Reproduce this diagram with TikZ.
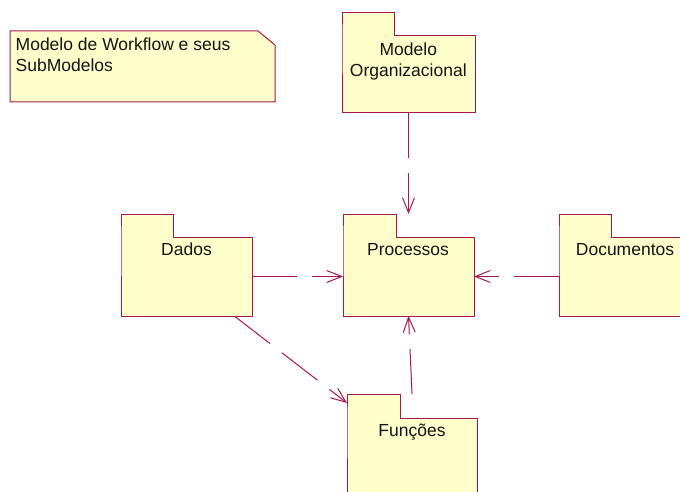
\documentclass[tikz,border=0pt]{standalone}
\usepackage{fontspec}
\setmainfont{Liberation Sans}
\usetikzlibrary{arrows.meta,calc,fit}

\definecolor{umlline}{RGB}{168,24,76}
\definecolor{umlfill}{RGB}{255,255,204}
\definecolor{umltext}{RGB}{20,20,20}

\tikzset{
  frame/.style={draw=umlline, fill=umlfill, line width=1pt, line join=miter},
  pkgbound/.style={rectangle, draw=none, inner sep=0pt, outer sep=0pt},
  caption/.style={inner sep=0pt, text=umltext, font=\fontsize{17.5}{21}\selectfont, align=center, anchor=base},
  notetext/.style={caption, align=left, anchor=base west},
  depends/.style={draw=umlline, line width=1pt, dash pattern=on 45pt off 15pt,
    -{Straight Barb[length=15pt,width=12pt]}},
}

% folder-shaped package: name, left, tab top, tab right, body top, right, bottom
\newcommand\umlpackage[7]{%
  \path[frame] (#2,#5) -- (#2,#3) -- (#4,#3) -- (#4,#5) -- (#6,#5) -- (#6,#7) -- (#2,#7) -- cycle;
  \node[pkgbound, fit={(#2,#3) (#6,#7)}] (#1) {};
  \coordinate (#1-body) at ({(#2+#6)/2},{(#5+#7)/2});
}

\begin{document}
\begin{tikzpicture}[x=1pt, y=-1pt]
  \useasboundingbox (0,0) rectangle (680,492);
  \clip (0,0) rectangle (680,492);

  % note with folded corner
  \path[frame] (10,31) -- (258,31) -- (275,45) -- (275,102) -- (10,102) -- cycle;
  \node[pkgbound, fit={(10,31) (275,102)}] (note) {};
  % multi-line captions are anchored on the baseline of their last line
  \node[notetext] (note-label) at (15.5,71.5) {Modelo de Workflow e seus\\SubModelos};

  % packages
  \umlpackage{modelo}{342}{13}{394}{36}{475}{113}
  \umlpackage{proc}{343}{214}{396}{237}{474}{316}
  \umlpackage{dados}{121}{214}{173}{237}{252}{316}
  \umlpackage{docs}{559}{214}{611}{237}{691}{316}
  \umlpackage{func}{347}{394}{400}{418}{477}{500}

  \node[caption] (modelo-label) at (408.3,76.5) {Modelo\\Organizacional};
  \node[caption] (proc-label) at (408,255) {Processos};
  \node[caption] (dados-label) at (186.5,255) {Dados};
  \node[caption] (docs-label) at (625,255) {Documentos};
  \node[caption] (func-label) at (412,436.7) {Funções};

  % dependencies
  \draw[depends] (modelo.south) -- (proc.north);
  \draw[depends] (dados-body -| dados.east) -- (proc-body -| proc.west);
  \draw[depends] (docs-body -| docs.west) -- (proc-body -| proc.east);
  \draw[depends] (func.north) -- (proc.south);
  \draw[depends] ($(dados.south west)!0.865!(dados.south east)$) -- ([yshift=-9pt]func.north west);
\end{tikzpicture}
\end{document}
